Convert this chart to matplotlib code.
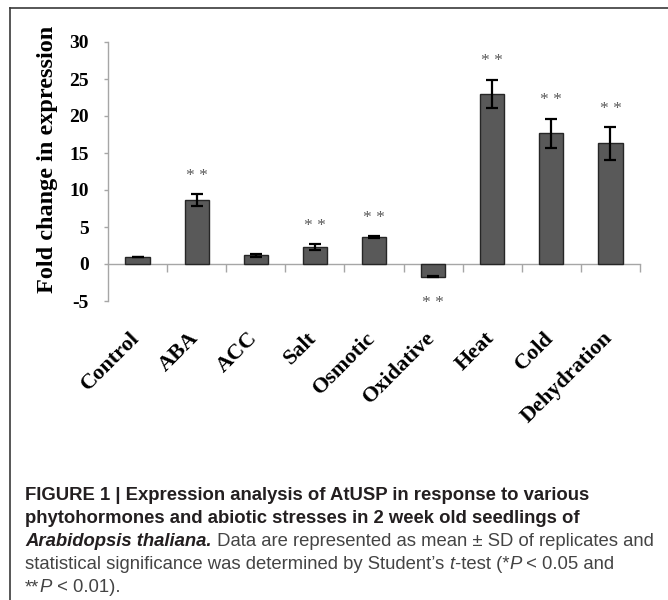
import numpy as np
import matplotlib
matplotlib.use("Agg")
import matplotlib.pyplot as plt
from matplotlib.ticker import FixedLocator
from matplotlib.transforms import ScaledTranslation

# data
categories = ['Control', 'ABA', 'ACC', 'Salt', 'Osmotic', 'Oxidative', 'Heat', 'Cold', 'Dehydration']
fold_change = [1.0, 8.65, 1.2, 2.3, 3.65, -1.7, 23.0, 17.65, 16.3]
sd = [0.0, 0.8, 0.2, 0.35, 0.1, 0.1, 1.9, 2.0, 2.2]
signif = ['', '**', '', '**', '**', '**', '**', '**', '**']
yticks = [-5, 0, 5, 10, 15, 20, 25, 30]

serif = ['Liberation Serif', 'DejaVu Serif']
axis_grey = '#a6a6a6'

fig = plt.figure(figsize=(6.68, 6.0), dpi=100)
ax = fig.add_axes([108/668, 1-301/600, 532/668, 259/600])

x = np.arange(len(categories))
ax.bar(x, fold_change, width=0.41, color='#595959', edgecolor='#262626', linewidth=1.0, zorder=3)
ax.errorbar(x, fold_change, yerr=sd, fmt='none', ecolor='black', elinewidth=1.6,
            capsize=4, capthick=1.6, zorder=4)

for i, s in enumerate(signif):
    if not s:
        continue
    if fold_change[i] >= 0:
        ys = fold_change[i] + sd[i] + 2.5
    else:
        ys = fold_change[i] - sd[i] - 3.5
    ax.text(x[i], ys, '* *', ha='center', va='center', fontsize=12.5, color='#595959',
            family=serif, clip_on=False)

ax.set_xlim(-0.5, len(categories) - 0.5)
ax.set_ylim(-5, 30)

# x axis sits at zero, Excel style
for side in ['top', 'right']:
    ax.spines[side].set_visible(False)
ax.spines['left'].set_color(axis_grey)
ax.spines['left'].set_linewidth(1.0)
ax.spines['bottom'].set_position(('data', 0))
ax.spines['bottom'].set_color(axis_grey)
ax.spines['bottom'].set_linewidth(1.0)

ax.set_yticks(yticks)
ax.set_yticklabels([str(v) for v in yticks], family=serif, fontweight='bold', fontsize=14)
ax.tick_params(axis='y', direction='out', length=3, width=1, color=axis_grey, pad=11)

ax.set_xticks(x)
ax.set_xticklabels(categories, rotation=45, ha='right', family=serif, fontweight='bold', fontsize=16)
ax.xaxis.set_minor_locator(FixedLocator(x + 0.5))
ax.tick_params(axis='x', which='major', length=0, pad=46)
ax.tick_params(axis='x', which='minor', direction='out', length=6, width=1, color=axis_grey)
for lbl in ax.get_xticklabels():
    lbl.set_transform(lbl.get_transform() + ScaledTranslation(6/100, 0, fig.dpi_scale_trans))

fig.text(48/668, 1-159/600, 'Fold change in expression', rotation=90, ha='center', va='center',
         family=serif, fontweight='bold', fontsize=17.5)

# frame around the figure panel (runs off right/bottom edge)
fig.add_artist(plt.Line2D([10/668, 1.0], [1-8/600, 1-8/600], color='#3a3a3a', lw=1.2))
fig.add_artist(plt.Line2D([10/668, 10/668], [1-8/600, 0.0], color='#3a3a3a', lw=1.2))

# caption, drawn run by run
sans = ['Liberation Sans Narrow', 'Liberation Sans', 'DejaVu Sans']
cap_size = 13.3
dark = '#231f20'
grey = '#444444'
caption_lines = [
    [('FIGURE 1 | Expression analysis of AtUSP in response to various', dict(fontweight='bold', color=dark))],
    [('phytohormones and abiotic stresses in 2 week old seedlings of', dict(fontweight='bold', color=dark))],
    [('Arabidopsis thaliana.', dict(fontweight='bold', style='italic', color=dark)),
     (' Data are represented as mean \u00b1 SD of replicates and', dict(color=grey))],
    [('statistical significance was determined by Student\u2019s ', dict(color=grey)),
     ('t', dict(style='italic', color=grey)),
     ('-test (*', dict(color=grey)),
     ('P', dict(style='italic', color=grey)),
     (' < 0.05 and', dict(color=grey))],
    [('**', dict(color=grey)),
     ('P', dict(style='italic', color=grey)),
     (' < 0.01).', dict(color=grey))],
]
line_y = [500, 523, 546, 569, 592]

renderer = fig.canvas.get_renderer()
for runs, yl in zip(caption_lines, line_y):
    xp = 25 / 668
    for txt, kw in runs:
        t = fig.text(xp, 1 - yl / 600, txt, ha='left', va='baseline', family=sans,
                     fontsize=cap_size, **kw)
        bb = t.get_window_extent(renderer)
        xp += bb.width / fig.bbox.width

fig.savefig('out.png', dpi=100, facecolor='white')
